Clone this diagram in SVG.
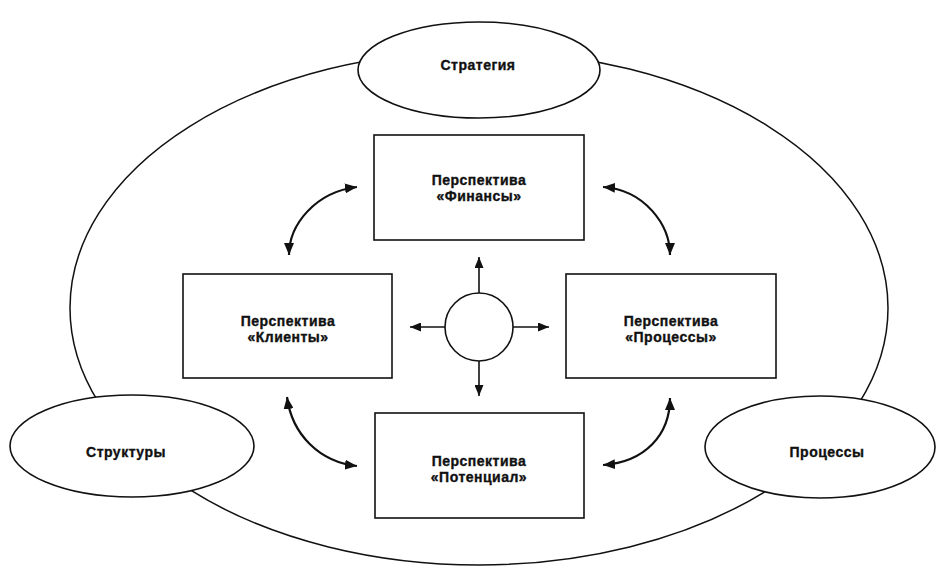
<svg xmlns="http://www.w3.org/2000/svg" width="936" height="567" viewBox="0 0 936 567">
<style>
.shape{fill:#fff;stroke:#111;stroke-width:1.6}
.outer{fill:none;stroke:#111;stroke-width:1.5}
.lbl{font-family:"Liberation Sans",Arial,sans-serif;font-weight:bold;font-size:14px;fill:#111;stroke:#111;stroke-width:0.35;text-anchor:middle;letter-spacing:0.5px}
.curve{fill:none;stroke:#111;stroke-width:2.2;marker-start:url(#ah);marker-end:url(#ah)}
.ray{fill:none;stroke:#111;stroke-width:1.6;marker-end:url(#ah2)}
</style>
<defs>
<marker id="ah" viewBox="0 0 12 10" refX="12" refY="5" markerWidth="12" markerHeight="10" markerUnits="userSpaceOnUse" orient="auto-start-reverse">
<path d="M0,0 L12,5 L0,10 Z" fill="#111"/>
</marker>
<marker id="ah2" viewBox="0 0 11 9" refX="11" refY="4.5" markerWidth="11" markerHeight="9" markerUnits="userSpaceOnUse" orient="auto">
<path d="M0,0 L11,4.5 L0,9 Z" fill="#111"/>
</marker>
</defs>
<rect width="936" height="567" fill="#fff"/>
<g id="outer-cycle">
<ellipse class="outer" cx="479" cy="308" rx="409" ry="257"/>
</g>
<g id="strategy">
<ellipse class="shape" cx="479" cy="70" rx="121" ry="48"/>
<text class="lbl" x="478" y="70">Стратегия</text>
</g>
<g id="structures">
<ellipse class="shape" cx="132" cy="446" rx="122" ry="51"/>
<text class="lbl" x="126" y="457">Структуры</text>
</g>
<g id="processes">
<ellipse class="shape" cx="820" cy="447" rx="115" ry="51"/>
<text class="lbl" x="827" y="457">Процессы</text>
</g>
<g id="finance">
<rect class="shape" x="374" y="135" width="210" height="105"/>
<text class="lbl" x="479" y="185">Перспектива</text>
<text class="lbl" x="479" y="201">«Финансы»</text>
</g>
<g id="clients">
<rect class="shape" x="183" y="274" width="209" height="104"/>
<text class="lbl" x="288" y="326">Перспектива</text>
<text class="lbl" x="288" y="342">«Клиенты»</text>
</g>
<g id="proc-persp">
<rect class="shape" x="566" y="274" width="210" height="104"/>
<text class="lbl" x="671" y="326">Перспектива</text>
<text class="lbl" x="671" y="342">«Процессы»</text>
</g>
<g id="potential">
<rect class="shape" x="375" y="413" width="209" height="105"/>
<text class="lbl" x="479" y="466">Перспектива</text>
<text class="lbl" x="479" y="482">«Потенциал»</text>
</g>
<g id="center">
<circle class="shape" cx="479" cy="327" r="34"/>
</g>
<g id="connectors">
<path class="curve" d="M289,255 C289,225 315,192 357,187"/>
<path class="curve" d="M603,187 C645,190 670,225 670,255"/>
<path class="curve" d="M670,398 C670,435 645,462 603,465"/>
<path class="curve" d="M287,397 C292,435 320,462 357,466"/>
<path class="ray" d="M479,293 L479,257"/>
<path class="ray" d="M479,361 L479,396"/>
<path class="ray" d="M445,327 L410,327"/>
<path class="ray" d="M513,327 L549,327"/>
</g>
</svg>
